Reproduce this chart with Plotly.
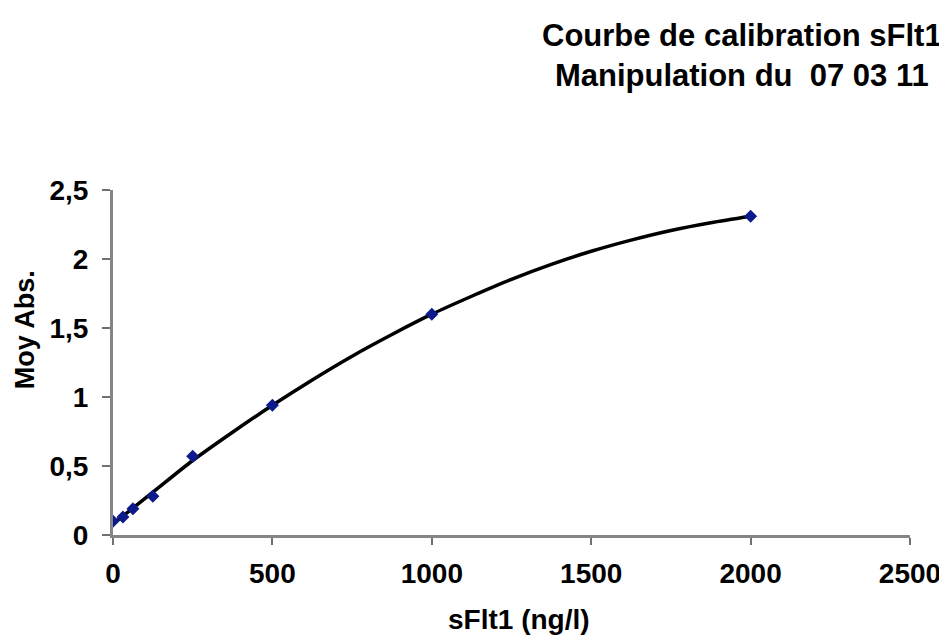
import plotly.graph_objects as go

# calibration standards (ng/l) and mean absorbance
conc = [0, 31.25, 62.5, 125, 250, 500, 1000, 2000]
abs_mean = [0.10, 0.13, 0.19, 0.28, 0.57, 0.94, 1.60, 2.31]

# values
fit_x = [0, 125, 250, 375, 500, 625, 750, 875, 1000, 1125, 1250,
         1375, 1500, 1625, 1750, 1875, 2000]
fit_y = [0.08, 0.31, 0.54, 0.745, 0.94, 1.124, 1.296, 1.453, 1.60, 1.73, 1.853,
         1.961, 2.056, 2.137, 2.207, 2.263, 2.31]

x_ticks = [0, 500, 1000, 1500, 2000, 2500]
y_ticks = [0, 0.5, 1, 1.5, 2, 2.5]
y_labels = ["0", "0,5", "1", "1,5", "2", "2,5"]

font_family = 'Liberation Sans, Arial, sans-serif'

fig = go.Figure()

# trend curve
fig.add_trace(go.Scatter(
    x=fit_x, y=fit_y, mode='lines',
    line=dict(color='black', width=3.5, shape='spline', smoothing=0.8),
    showlegend=False
))

# measured points
fig.add_trace(go.Scatter(
    x=conc, y=abs_mean, mode='markers',
    marker=dict(symbol='diamond', size=10, color='#0d1a8c'),
    showlegend=False
))

# page body adds an 8px margin, so the figure is a bit smaller than the window
fig.update_layout(
    width=939, height=628,
    paper_bgcolor='white', plot_bgcolor='white',
    margin=dict(l=105, r=37, t=182, b=101),
    font=dict(family=font_family, color='black'),
    separators=', ',
)

# title, right aligned block with centred lines
fig.add_annotation(
    text="<b>Courbe de calibration sFlt1</b><br><b>Manipulation du  07 03 11</b>",
    xref='paper', yref='paper', x=1.0427, y=1.39,
    xanchor='right', yanchor='middle', align='center', showarrow=False,
    font=dict(size=31, family=font_family, color='black'),
)

# axis titles
fig.add_annotation(
    text="<b>sFlt1 (ng/l)</b>", xref='paper', yref='paper',
    x=0.51, y=-0.246, xanchor='center', yanchor='middle', showarrow=False,
    font=dict(size=28, family=font_family, color='black'),
)
fig.add_annotation(
    text="<b>Moy Abs.</b>", xref='paper', yref='paper',
    x=-0.111, y=0.595, xanchor='center', yanchor='middle', showarrow=False,
    textangle=-90, borderpad=0,
    font=dict(size=27, family=font_family, color='black'),
)

fig.update_xaxes(
    range=[0, 2500], tickvals=x_ticks, ticktext=[f"<b>{t}</b>" for t in x_ticks],
    showline=True, linecolor='#858585', linewidth=3,
    ticks='outside', ticklen=7, tickcolor='#707070', tickwidth=2,
    showgrid=False, zeroline=False, automargin=False,
    ticklabelstandoff=4,
    tickfont=dict(size=28, family=font_family, color='black'),
)
fig.update_yaxes(
    range=[0, 2.5], tickvals=y_ticks, ticktext=[f"<b>{t}</b>" for t in y_labels],
    showline=True, linecolor='#858585', linewidth=3,
    ticks='outside', ticklen=8, tickcolor='#707070', tickwidth=2,
    showgrid=False, zeroline=False, automargin=False,
    ticklabelstandoff=8,
    tickfont=dict(size=28, family=font_family, color='black'),
)

fig.write_html("out.html")
